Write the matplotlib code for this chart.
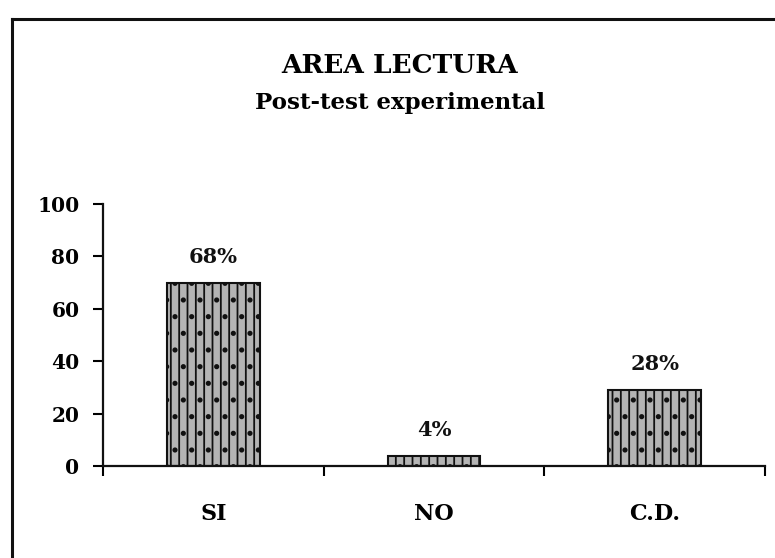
import matplotlib
matplotlib.use("Agg")
import matplotlib.pyplot as plt
from matplotlib.lines import Line2D

categories = ["SI", "NO", "C.D."]
values = [70, 4, 29]
value_labels = ["68%", "4%", "28%"]
yticks = [0, 20, 40, 60, 80, 100]
title_lines = ["AREA LECTURA", "Post-test experimental"]

plt.rcParams['font.family'] = ['DejaVu Serif']
plt.rcParams['hatch.linewidth'] = 1.3

fig = plt.figure(figsize=(7.75, 5.58), dpi=100)
ax = fig.add_axes([0.1329, 0.1649, 0.8542, 0.4695])

x = list(range(len(categories)))
bars = ax.bar(x, values, width=0.42, color='#b4b4b4', edgecolor='#111111',
              linewidth=1.5, hatch='||.')
for xi, v, lab in zip(x, values, value_labels):
    ax.text(xi, v + 6, lab, ha='center', va='bottom', fontsize=15,
            fontweight='bold', color='#111111')

ax.set_xlim(-0.5, 2.5)
ax.set_ylim(0, 100)
ax.set_yticks(yticks)
ax.set_yticklabels([str(t) for t in yticks], fontsize=14.5, fontweight='bold')
ax.set_xticks([-0.5, 0.5, 1.5, 2.5])
ax.set_xticklabels([])
ax.set_xticks(x, minor=True)
ax.set_xticklabels(categories, minor=True, fontsize=16, fontweight='bold')
ax.tick_params(axis='x', which='minor', length=0, pad=27)
ax.tick_params(axis='x', which='major', direction='out', length=7, width=1.5)
ax.tick_params(axis='y', direction='out', length=7, width=1.5, pad=10)
for s in ['top', 'right']:
    ax.spines[s].set_visible(False)
for s in ['left', 'bottom']:
    ax.spines[s].set_linewidth(1.6)
    ax.spines[s].set_color('#111111')

fig.text(0.516, 0.883, title_lines[0], ha='center', va='center',
         fontsize=19, fontweight='bold')
fig.text(0.516, 0.815, title_lines[1], ha='center', va='center',
         fontsize=16.5, fontweight='bold')

# outer frame
fig.add_artist(Line2D([0.0155, 0.0155], [-0.05, 0.966], transform=fig.transFigure,
                      color='#111111', linewidth=2.2))
fig.add_artist(Line2D([0.0155, 1.05], [0.966, 0.966], transform=fig.transFigure,
                      color='#111111', linewidth=2.2))

fig.savefig("out.png", dpi=100)
